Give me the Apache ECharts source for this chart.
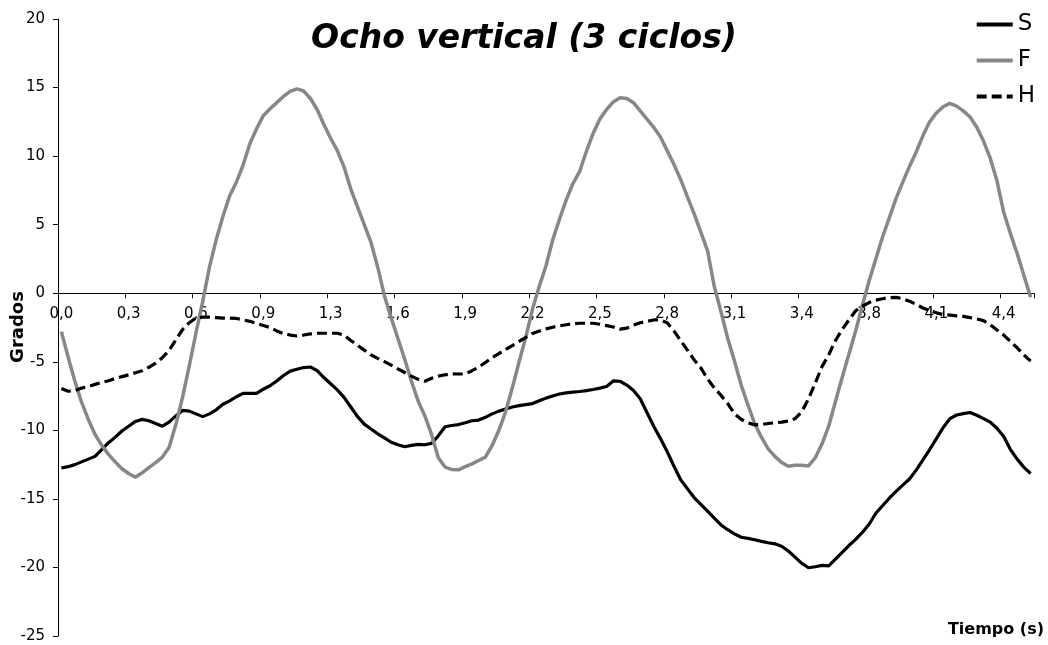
<!DOCTYPE html>
<html>
<head>
<meta charset="utf-8">
<script src="https://cdn.jsdelivr.net/npm/echarts@6/dist/echarts.min.js"></script>
<style>
html,body{margin:0;padding:0;background:#fff;}
#chart{width:1048px;height:645px;}
</style>
</head>
<body>
<div id="chart"></div>
<script>
// Tick labels shown every 10 samples (time in s)
const tickLabels = ['0,0','0,3','0,6','0,9','1,3','1,6','1,9','2,2','2,5','2,8','3,1','3,4','3,8','4,1','4,4'];

const S = [-12.75,-12.65,-12.5,-12.3,-12.1,-11.9,-11.4,-10.9,-10.5,-10.05,
-9.7,-9.35,-9.2,-9.3,-9.5,-9.7,-9.4,-8.95,-8.55,-8.6,
-8.8,-9.0,-8.8,-8.5,-8.1,-7.85,-7.55,-7.3,-7.3,-7.3,
-7.0,-6.75,-6.4,-6.0,-5.68,-5.55,-5.42,-5.38,-5.65,-6.15,
-6.6,-7.05,-7.6,-8.3,-9.0,-9.55,-9.9,-10.25,-10.55,-10.87,
-11.05,-11.2,-11.1,-11.02,-11.05,-10.95,-10.4,-9.74,-9.65,-9.58,
-9.45,-9.3,-9.25,-9.05,-8.8,-8.6,-8.45,-8.3,-8.2,-8.12,
-8.05,-7.85,-7.65,-7.5,-7.35,-7.27,-7.22,-7.17,-7.1,-7.02,
-6.92,-6.8,-6.4,-6.42,-6.7,-7.1,-7.7,-8.7,-9.7,-10.6,
-11.55,-12.6,-13.6,-14.25,-14.9,-15.4,-15.9,-16.4,-16.9,-17.25,
-17.55,-17.8,-17.88,-17.98,-18.1,-18.2,-18.28,-18.45,-18.8,-19.25,
-19.7,-20.02,-19.95,-19.85,-19.88,-19.4,-18.9,-18.4,-17.95,-17.45,
-16.85,-16.05,-15.5,-14.95,-14.45,-14.0,-13.55,-12.9,-12.15,-11.4,
-10.6,-9.8,-9.15,-8.88,-8.78,-8.7,-8.9,-9.15,-9.4,-9.85,
-10.45,-11.4,-12.1,-12.7,-13.15];

const F = [-2.8,-4.65,-6.4,-7.95,-9.2,-10.3,-11.1,-11.75,-12.3,-12.8,
-13.15,-13.42,-13.1,-12.72,-12.35,-11.95,-11.25,-9.6,-7.6,-5.3,
-2.9,-0.6,1.9,3.9,5.6,7.1,8.1,9.35,10.9,12.0,
12.95,13.45,13.9,14.35,14.72,14.9,14.75,14.2,13.4,12.3,
11.3,10.4,9.2,7.6,6.3,5.0,3.7,1.9,-0.2,-1.8,
-3.3,-4.8,-6.4,-7.85,-8.95,-10.3,-12.0,-12.68,-12.85,-12.88,
-12.65,-12.45,-12.2,-11.95,-11.1,-10.0,-8.65,-6.9,-5.0,-3.2,
-1.15,0.5,2.0,3.9,5.4,6.8,8.0,8.88,10.35,11.65,
12.7,13.4,13.95,14.25,14.2,13.9,13.3,12.7,12.1,11.4,
10.4,9.4,8.3,7.05,5.8,4.45,3.1,0.5,-1.35,-3.3,
-4.95,-6.7,-8.15,-9.5,-10.5,-11.35,-11.9,-12.35,-12.62,-12.55,
-12.55,-12.6,-12.0,-11.0,-9.7,-7.9,-6.15,-4.45,-2.75,-0.9,
0.9,2.5,4.1,5.5,6.9,8.1,9.25,10.3,11.5,12.5,
13.15,13.6,13.85,13.65,13.3,12.85,12.1,11.1,9.85,8.2,
5.9,4.35,2.9,1.3,-0.3];

const H = [-6.95,-7.15,-7.1,-6.92,-6.8,-6.65,-6.5,-6.38,-6.22,-6.08,
-5.95,-5.8,-5.65,-5.4,-5.1,-4.7,-4.18,-3.4,-2.65,-2.15,
-1.8,-1.75,-1.75,-1.78,-1.82,-1.82,-1.84,-1.94,-2.05,-2.2,
-2.35,-2.5,-2.75,-2.95,-3.05,-3.12,-3.05,-2.97,-2.92,-2.92,
-2.92,-2.92,-3.05,-3.45,-3.8,-4.15,-4.5,-4.75,-4.99,-5.25,
-5.52,-5.78,-6.05,-6.28,-6.42,-6.2,-6.05,-5.95,-5.88,-5.89,
-5.89,-5.65,-5.4,-5.05,-4.7,-4.4,-4.1,-3.82,-3.52,-3.22,
-2.93,-2.76,-2.6,-2.48,-2.38,-2.3,-2.23,-2.19,-2.19,-2.19,
-2.26,-2.36,-2.46,-2.62,-2.55,-2.33,-2.15,-2.05,-1.95,-1.95,
-2.15,-2.75,-3.45,-4.15,-4.85,-5.45,-6.25,-6.9,-7.45,-8.05,
-8.8,-9.2,-9.45,-9.6,-9.58,-9.5,-9.45,-9.4,-9.32,-9.15,
-8.65,-7.7,-6.55,-5.35,-4.5,-3.45,-2.65,-1.95,-1.28,-0.95,
-0.68,-0.5,-0.4,-0.32,-0.3,-0.4,-0.58,-0.82,-1.08,-1.27,
-1.43,-1.56,-1.6,-1.65,-1.69,-1.78,-1.88,-2.0,-2.3,-2.68,
-3.05,-3.52,-3.98,-4.5,-4.95];

const samples = S.map((_, i) => i);
const FONT = 'DejaVu Sans';
const Y_MIN = -25, Y_MAX = 20;
const GRID = {left: 58, right: 14, top: 19, bottom: 9};
const H_PX = 645 - GRID.top - GRID.bottom;
// move the category axis up so it sits on the value 0 line
const zeroOffset = -H_PX * (0 - Y_MIN) / (Y_MAX - Y_MIN);

const chart = echarts.init(document.getElementById('chart'), null, {renderer: 'canvas'});
chart.setOption({
  animation: false,
  backgroundColor: '#ffffff',
  title: {
    text: 'Ocho vertical (3 ciclos)',
    left: 'center',
    top: 18,
    textStyle: {fontFamily: FONT, fontSize: 33, fontWeight: 'bold', fontStyle: 'italic', color: '#000'}
  },
  legend: {
    orient: 'vertical',
    right: 8,
    top: 8,
    itemWidth: 36,
    itemHeight: 14,
    itemGap: 13,
    itemStyle: {opacity: 0},
    lineStyle: {width: 4},
    textStyle: {fontFamily: FONT, fontSize: 23, color: '#000'},
    data: ['S', 'F', 'H']
  },
  grid: {left: GRID.left, right: GRID.right, top: GRID.top, bottom: GRID.bottom, outerBoundsMode: 'none', containLabel: false},
  xAxis: {
    type: 'category',
    position: 'bottom',
    offset: zeroOffset,
    data: samples,
    boundaryGap: true,
    axisLine: {onZero: false, lineStyle: {color: '#000', width: 1}},
    axisTick: {show: true, interval: 9, inside: false, length: 5, lineStyle: {color: '#000'}},
    axisLabel: {
      interval: 9,
      margin: 13,
      fontFamily: FONT,
      fontSize: 15,
      color: '#000',
      formatter: function (v, idx) { return tickLabels[Math.round(idx / 10)]; }
    },
    splitLine: {show: false}
  },
  yAxis: {
    type: 'value',
    min: Y_MIN,
    max: Y_MAX,
    interval: 5,
    axisLine: {show: true, lineStyle: {color: '#000', width: 1}},
    axisTick: {show: true, length: 5, lineStyle: {color: '#000'}},
    axisLabel: {margin: 13, fontFamily: FONT, fontSize: 15, color: '#000'},
    splitLine: {show: false}
  },
  graphic: [{
    type: 'text',
    x: 18,
    y: 327,
    rotation: Math.PI / 2,
    style: {text: 'Grados', fontFamily: FONT, fontSize: 18, fontWeight: 'bold', fill: '#000',
            align: 'center', verticalAlign: 'middle'}
  }, {
    type: 'text',
    right: 4,
    top: 622,
    style: {text: 'Tiempo (s)', fontFamily: FONT, fontSize: 16, fontWeight: 'bold', fill: '#000'}
  }],
  series: [
    {name: 'S', type: 'line', data: S, symbol: 'none', smooth: false,
     lineStyle: {color: '#000000', width: 3.2}, itemStyle: {color: '#000000'}},
    {name: 'F', type: 'line', data: F, symbol: 'none', smooth: false,
     lineStyle: {color: '#878787', width: 3.5}, itemStyle: {color: '#878787'}},
    {name: 'H', type: 'line', data: H, symbol: 'none', smooth: false,
     lineStyle: {color: '#000000', width: 3.2, type: [10, 5]}, itemStyle: {color: '#000000'}}
  ]
});
</script>
</body>
</html>
